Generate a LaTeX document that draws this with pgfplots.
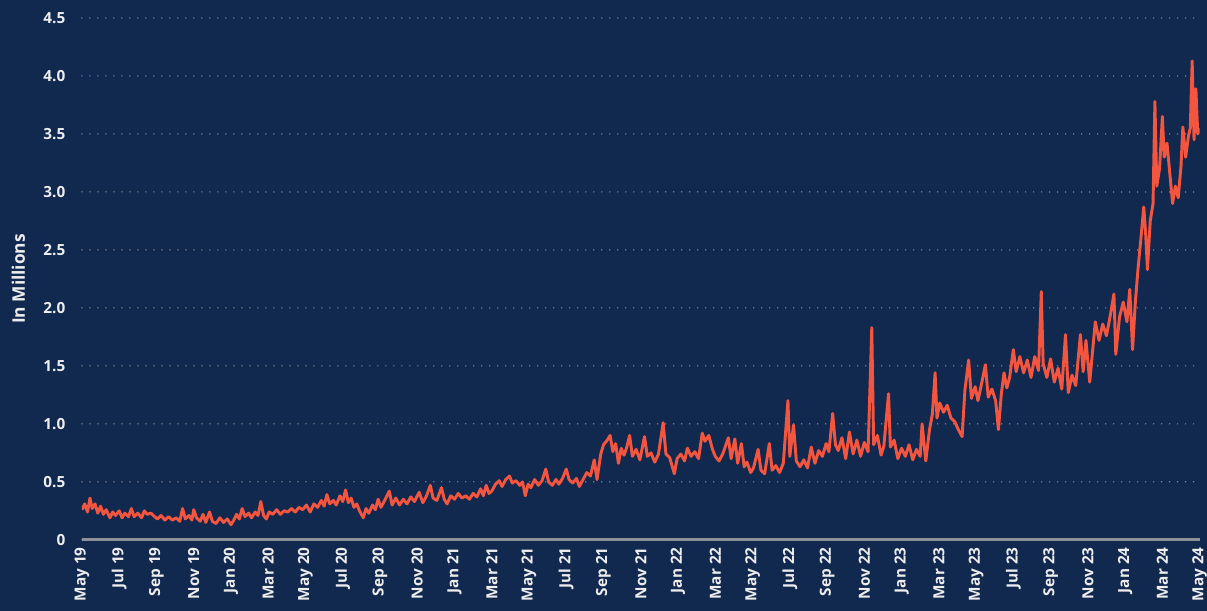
\documentclass[border=0pt]{standalone}
\usepackage{fontspec}
\setmainfont{Open Sans}
\usepackage{pgfplots}
\pgfplotsset{compat=1.18}
\definecolor{navy}{HTML}{11284F}
\definecolor{linered}{HTML}{F4553F}
\definecolor{griddot}{HTML}{9A9486}
\definecolor{axisgray}{HTML}{8E9197}
\definecolor{labelwhite}{HTML}{EDEDED}

\begin{document}
\begin{tikzpicture}
\fill[navy] (-61.5pt,-53.25pt) rectangle (843.75pt,405pt);
\begin{axis}[
at={(0,0)},anchor=south west,
scale only axis,width=838.5pt,height=391.5pt,
xmin=0,xmax=60,ymin=0,ymax=4.5,
axis x line*=bottom,axis y line*=left,
y axis line style={draw=none},
x axis line style={draw=axisgray,line width=2.2pt,-},
tick style={draw=none},
ytick={0,0.5,1,1.5,2,2.5,3,3.5,4,4.5},
yticklabels={0,0.5,1.0,1.5,2.0,2.5,3.0,3.5,4.0,4.5},
xtick={0,2,...,60},
xticklabels={May 19,Jul 19,Sep 19,Nov 19,Jan 20,Mar 20,May 20,Jul 20,Sep 20,Nov 20,Jan 21,Mar 21,May 21,Jul 21,Sep 21,Nov 21,Jan 22,Mar 22,May 22,Jul 22,Sep 22,Nov 22,Jan 23,Mar 23,May 23,Jul 23,Sep 23,Nov 23,Jan 24,Mar 24,May 24},
/pgf/number format/assume math mode=true,
ymajorgrids,
grid style={draw=griddot,line width=1.1pt,dash pattern=on 0pt off 6pt,line cap=round},
yticklabel style={font=\fontsize{11.5}{13}\selectfont\bfseries,text=labelwhite,xshift=-9pt},
xticklabel style={font=\fontsize{11.5}{13}\selectfont\bfseries,text=labelwhite,rotate=90,anchor=east,inner xsep=5.5pt,inner ysep=0pt},
ylabel={In Millions},
ylabel style={font=\fontsize{13}{15}\selectfont\bfseries,text=labelwhite,at={(axis description cs:-0.057,0.5)},anchor=center},
]
\addplot[linered,line width=2.2pt,line join=round] table {
0.00 0.26
0.15 0.31
0.30 0.24
0.43 0.36
0.55 0.27
0.70 0.31
0.85 0.23
1.00 0.29
1.15 0.22
1.30 0.26
1.50 0.19
1.65 0.24
1.80 0.21
2.00 0.25
2.15 0.19
2.30 0.23
2.50 0.20
2.65 0.27
2.80 0.20
3.00 0.23
3.20 0.19
3.35 0.25
3.50 0.22
3.70 0.23
3.90 0.20
4.05 0.18
4.25 0.21
4.45 0.17
4.65 0.20
4.85 0.17
5.05 0.19
5.25 0.16
5.40 0.27
5.55 0.18
5.75 0.21
5.90 0.17
6.00 0.26
6.15 0.19
6.35 0.16
6.50 0.22
6.65 0.15
6.85 0.24
7.00 0.16
7.20 0.14
7.40 0.19
7.60 0.15
7.80 0.18
8.00 0.13
8.15 0.17
8.30 0.22
8.45 0.18
8.60 0.27
8.75 0.20
8.95 0.23
9.10 0.19
9.30 0.24
9.45 0.21
9.60 0.33
9.75 0.21
9.90 0.18
10.05 0.24
10.25 0.22
10.45 0.26
10.65 0.22
10.85 0.25
11.05 0.24
11.25 0.27
11.45 0.24
11.65 0.28
11.85 0.26
12.05 0.30
12.25 0.24
12.45 0.31
12.65 0.28
12.85 0.34
13.00 0.29
13.15 0.39
13.30 0.31
13.50 0.34
13.65 0.30
13.85 0.38
14.00 0.33
14.15 0.43
14.30 0.32
14.45 0.36
14.60 0.28
14.75 0.31
14.90 0.25
15.10 0.19
15.25 0.27
15.40 0.23
15.60 0.30
15.75 0.26
15.90 0.35
16.05 0.28
16.25 0.34
16.50 0.42
16.65 0.30
16.85 0.36
17.05 0.30
17.25 0.35
17.45 0.31
17.65 0.37
17.85 0.33
18.10 0.41
18.30 0.32
18.50 0.38
18.70 0.47
18.85 0.36
19.05 0.34
19.30 0.45
19.45 0.35
19.60 0.31
19.80 0.38
20.00 0.35
20.20 0.40
20.40 0.36
20.60 0.38
20.80 0.35
21.00 0.40
21.20 0.37
21.40 0.44
21.55 0.38
21.70 0.47
21.85 0.40
22.00 0.42
22.20 0.48
22.40 0.51
22.55 0.46
22.75 0.52
22.95 0.55
23.10 0.49
23.30 0.51
23.50 0.47
23.65 0.50
23.80 0.38
23.95 0.48
24.10 0.45
24.30 0.52
24.50 0.47
24.70 0.51
24.90 0.61
25.05 0.50
25.25 0.47
25.45 0.52
25.60 0.48
25.80 0.53
26.00 0.61
26.15 0.52
26.35 0.49
26.55 0.53
26.70 0.46
26.90 0.52
27.10 0.58
27.30 0.55
27.50 0.69
27.65 0.52
27.85 0.74
28.00 0.82
28.20 0.86
28.35 0.90
28.50 0.76
28.65 0.83
28.80 0.66
28.95 0.79
29.10 0.73
29.25 0.80
29.40 0.90
29.55 0.72
29.75 0.78
29.95 0.69
30.20 0.89
30.35 0.72
30.55 0.75
30.75 0.67
30.95 0.74
31.20 1.01
31.35 0.74
31.55 0.71
31.80 0.57
31.95 0.70
32.15 0.74
32.35 0.68
32.50 0.79
32.70 0.72
32.90 0.76
33.10 0.70
33.30 0.92
33.45 0.85
33.65 0.90
33.85 0.78
34.00 0.72
34.20 0.68
34.40 0.74
34.70 0.88
34.85 0.70
35.05 0.87
35.20 0.66
35.40 0.83
35.55 0.63
35.70 0.67
35.90 0.58
36.05 0.62
36.30 0.78
36.45 0.60
36.65 0.57
36.90 0.83
37.05 0.60
37.25 0.64
37.45 0.58
37.65 0.66
37.90 1.20
38.00 0.72
38.20 0.99
38.35 0.68
38.55 0.63
38.75 0.69
38.95 0.62
39.15 0.80
39.35 0.66
39.55 0.77
39.75 0.72
39.95 0.83
40.10 0.76
40.30 1.09
40.45 0.82
40.60 0.77
40.80 0.88
41.00 0.70
41.20 0.93
41.40 0.74
41.60 0.86
41.80 0.72
42.00 0.84
42.20 0.76
42.40 1.83
42.50 0.82
42.70 0.90
42.90 0.73
43.05 0.81
43.30 1.26
43.40 0.80
43.60 0.86
43.80 0.70
44.00 0.79
44.20 0.72
44.40 0.82
44.60 0.69
44.80 0.78
45.00 0.72
45.10 1.00
45.30 0.68
45.50 0.95
45.65 1.08
45.80 1.44
45.90 1.05
46.05 1.18
46.25 1.10
46.45 1.16
46.65 1.05
46.85 1.02
47.05 0.95
47.25 0.89
47.40 1.29
47.60 1.55
47.75 1.22
47.95 1.32
48.10 1.20
48.30 1.35
48.50 1.51
48.65 1.23
48.85 1.30
49.05 1.20
49.20 0.95
49.35 1.25
49.50 1.44
49.65 1.31
49.80 1.40
50.00 1.64
50.15 1.45
50.35 1.58
50.55 1.44
50.75 1.55
50.95 1.40
51.15 1.58
51.35 1.46
51.50 2.14
51.60 1.52
51.80 1.40
52.00 1.56
52.20 1.36
52.40 1.48
52.60 1.30
52.80 1.77
52.95 1.27
53.15 1.42
53.35 1.33
53.60 1.77
53.75 1.45
53.90 1.72
54.10 1.36
54.25 1.62
54.40 1.88
54.60 1.72
54.80 1.86
55.00 1.76
55.20 1.93
55.40 2.12
55.50 1.60
55.70 1.92
55.90 2.05
56.10 1.88
56.25 2.16
56.40 1.64
56.55 2.05
56.70 2.35
56.85 2.60
57.00 2.87
57.10 2.65
57.20 2.33
57.35 2.75
57.50 2.90
57.60 3.78
57.70 3.05
57.85 3.20
58.00 3.65
58.10 3.30
58.25 3.42
58.40 3.16
58.55 2.90
58.70 3.05
58.85 2.95
59.00 3.22
59.10 3.56
59.25 3.30
59.40 3.48
59.50 3.55
59.60 4.13
59.70 3.45
59.80 3.89
59.90 3.50
60.00 3.55
};
\end{axis}
\end{tikzpicture}
\end{document}
